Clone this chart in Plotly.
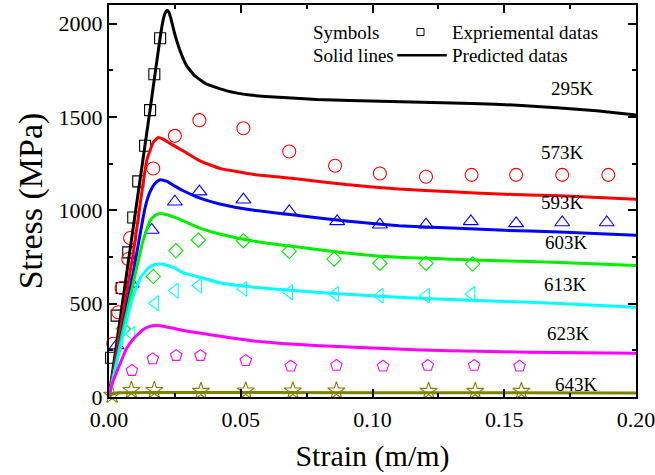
import plotly.graph_objects as go

# ---------------- data ----------------
temperatures = ["295K", "573K", "593K", "603K", "613K", "623K", "643K"]
colors = ["#000000", "#FF0000", "#0000FF", "#00EE00", "#00FFFF", "#FF00FF", "#808000"]
symbols = ["square-open", "circle-open", "triangle-up-open", "diamond-open",
           "triangle-left-open", "pentagon-open", "star-open"]
marker_sizes = [11, 13, 13, 11, 13, 12, 13]

x_tick_values = [0.0, 0.05, 0.10, 0.15, 0.20]
x_tick_labels = ["0.00", "0.05", "0.10", "0.15", "0.20"]
y_tick_values = [0, 500, 1000, 1500, 2000]
y_tick_labels = ["0", "500", "1000", "1500", "2000"]

# experimental points (strain, stress in MPa)
exp_strain_295 = [0.0008, 0.0029, 0.0048, 0.0073, 0.0092, 0.0111, 0.0137, 0.0156, 0.0172, 0.0194]
exp_stress_295 = [210, 436, 584, 775, 962, 1155, 1346, 1537, 1729, 1922]

exp_strain_573 = [0.0016, 0.0035, 0.0048, 0.0073, 0.0080, 0.0168, 0.0250, 0.0343, 0.0510,
                  0.0684, 0.0858, 0.1028, 0.1203, 0.1376, 0.1545, 0.1720, 0.1895]
exp_stress_573 = [285, 454, 584, 739, 852, 1224, 1399, 1483, 1440,
                  1315, 1239, 1197, 1180, 1190, 1190, 1190, 1190]

exp_strain_593 = [0.0029, 0.0086, 0.0162, 0.0250, 0.0343, 0.0510, 0.0684, 0.0866,
                  0.1028, 0.1203, 0.1373, 0.1545, 0.1720, 0.1889]
exp_stress_593 = [276, 606, 895, 1046, 1100, 1057, 994, 941,
                  923, 923, 941, 930, 935, 935]

exp_strain_603 = [0.0054, 0.0168, 0.0254, 0.0339, 0.0510, 0.0684, 0.0854, 0.1028, 0.1203, 0.1380]
exp_stress_603 = [365, 646, 784, 841, 837, 780, 739, 716, 716, 713]

exp_strain_613 = [0.0086, 0.0175, 0.0250, 0.0339, 0.0510, 0.0684, 0.0858, 0.1028, 0.1203, 0.1376]
exp_stress_613 = [338, 502, 570, 597, 579, 561, 552, 543, 543, 552]

exp_strain_623 = [0.0087, 0.0166, 0.0255, 0.0347, 0.0519, 0.0690, 0.0863, 0.1040, 0.1210, 0.1386, 0.1558]
exp_stress_623 = [142, 204, 222, 222, 195, 165, 169, 165, 169, 169, 165]

exp_strain_643 = [0.0012, 0.0085, 0.0172, 0.0349, 0.0519, 0.0698, 0.0863, 0.1213, 0.1390, 0.1565]
exp_stress_643 = [10, 36, 36, 31, 33, 33, 33, 31, 31, 31]

# predicted curves (strain, stress in MPa)
pred_strain_295 = [0, 0.0156, 0.0194, 0.0207, 0.0215, 0.0221, 0.0227, 0.0234, 0.0250, 0.0270,
                   0.0295, 0.0326, 0.0371, 0.0447, 0.0535, 0.0662, 0.0788, 0.0915, 0.1070,
                   0.1380, 0.1550, 0.1700, 0.1850, 0.2000]
pred_stress_295 = [0, 1540, 1925, 2030, 2062, 2072, 2062, 2032, 1943, 1854,
                   1774, 1720, 1676, 1640, 1618, 1604, 1594, 1589, 1583,
                   1572, 1563, 1550, 1533, 1511]

pred_strain_573 = [0, 0.0092, 0.0143, 0.0168, 0.0187, 0.0205, 0.0230, 0.0282, 0.0345, 0.0420,
                   0.0550, 0.0725, 0.0900, 0.1100, 0.1300, 0.1480, 0.1710, 0.2000]
pred_stress_573 = [0, 770, 1265, 1365, 1390, 1382, 1360, 1318, 1265, 1225,
                   1192, 1167, 1138, 1114, 1100, 1087, 1078, 1060]

pred_strain_593 = [0, 0.0086, 0.0137, 0.0156, 0.0175, 0.0194, 0.0220, 0.0250, 0.0282, 0.0345,
                   0.0420, 0.0550, 0.0725, 0.0900, 0.1100, 0.1300, 0.1480, 0.1710, 0.2000]
pred_stress_593 = [0, 620, 1015, 1100, 1145, 1164, 1155, 1130, 1105, 1065,
                   1034, 1000, 971, 943, 918, 905, 894, 884, 866]

pred_strain_603 = [0, 0.0054, 0.0130, 0.0156, 0.0175, 0.0194, 0.0220, 0.0250, 0.0282, 0.0345,
                   0.0420, 0.0550, 0.0725, 0.0900, 0.1100, 0.1300, 0.1480, 0.1710, 0.2000]
pred_stress_603 = [0, 365, 840, 944, 972, 983, 976, 962, 944, 905,
                   873, 835, 802, 772, 748, 738, 730, 721, 704]

pred_strain_613 = [0, 0.0086, 0.0120, 0.0149, 0.0175, 0.0195, 0.0220, 0.0250, 0.0282, 0.0345,
                   0.0420, 0.0550, 0.0725, 0.0900, 0.1100, 0.1300, 0.1480, 0.1710, 0.2000]
pred_stress_613 = [0, 516, 640, 690, 710, 712, 706, 690, 665, 642,
                   612, 588, 568, 550, 534, 522, 513, 501, 481]

pred_strain_623 = [0, 0.0010, 0.0042, 0.0065, 0.0092, 0.0130, 0.0155, 0.0175, 0.0210, 0.0245,
                   0.0282, 0.0409, 0.0550, 0.0778, 0.1000, 0.1185, 0.1400, 0.1590, 0.1800, 0.2000]
pred_stress_623 = [0, 62, 178, 255, 311, 362, 378, 383, 378, 368,
                   356, 328, 300, 276, 262, 252, 245, 240, 237, 234]

pred_strain_643 = [0, 0.0015, 0.0040, 0.0200, 0.1000, 0.2000]
pred_stress_643 = [0, 18, 23, 24, 23, 22]

exp_strain = [exp_strain_295, exp_strain_573, exp_strain_593, exp_strain_603,
              exp_strain_613, exp_strain_623, exp_strain_643]
exp_stress = [exp_stress_295, exp_stress_573, exp_stress_593, exp_stress_603,
              exp_stress_613, exp_stress_623, exp_stress_643]
pred_strain = [pred_strain_295, pred_strain_573, pred_strain_593, pred_strain_603,
               pred_strain_613, pred_strain_623, pred_strain_643]
pred_stress = [pred_stress_295, pred_stress_573, pred_stress_593, pred_stress_603,
               pred_stress_613, pred_stress_623, pred_stress_643]

# temperature label anchor points (strain, stress)
label_strain = [0.176, 0.172, 0.172, 0.1737, 0.1732, 0.1742, 0.1775]
label_stress = [1654, 1310, 1042, 826, 604, 338, 65]

FONT = "Liberation Serif, Times New Roman, serif"

fig = go.Figure()

# experimental symbols
for i in range(len(temperatures)):
    fig.add_trace(go.Scatter(
        x=exp_strain[i], y=exp_stress[i], mode="markers",
        marker=dict(symbol=symbols[i], size=marker_sizes[i], color=colors[i],
                    line=dict(width=1.1, color=colors[i])),
        showlegend=False, cliponaxis=False,
    ))

# predicted curves
for i in range(len(temperatures)):
    fig.add_trace(go.Scatter(
        x=pred_strain[i], y=pred_stress[i], mode="lines",
        line=dict(color=colors[i], width=3, shape="spline", smoothing=0.4),
        showlegend=False,
    ))

# temperature labels
for i, t in enumerate(temperatures):
    fig.add_annotation(x=label_strain[i], y=label_stress[i], text=t, showarrow=False,
                       xanchor="center", yanchor="middle",
                       font=dict(family=FONT, size=19, color="black"))

# key box text
key_font = dict(family=FONT, size=19, color="black")
fig.add_annotation(xref="paper", yref="paper", x=0.384, y=0.931, text="Symbols",
                   showarrow=False, xanchor="left", yanchor="middle", font=key_font)
fig.add_annotation(xref="paper", yref="paper", x=0.384, y=0.870, text="Solid lines",
                   showarrow=False, xanchor="left", yanchor="middle", font=key_font)
fig.add_annotation(xref="paper", yref="paper", x=0.648, y=0.931, text="Expriemental datas",
                   showarrow=False, xanchor="left", yanchor="middle", font=key_font)
fig.add_annotation(xref="paper", yref="paper", x=0.648, y=0.870, text="Predicted datas",
                   showarrow=False, xanchor="left", yanchor="middle", font=key_font)
fig.add_shape(type="rect", xref="paper", yref="paper", x0=0.5844, x1=0.5977, y0=0.922, y1=0.940,
              line=dict(color="black", width=1), fillcolor="rgba(0,0,0,0)")
fig.add_shape(type="line", xref="paper", yref="paper", x0=0.547, x1=0.641, y0=0.872, y1=0.872,
              line=dict(color="black", width=2.5))

axis_common = dict(
    showline=True, linewidth=2, linecolor="black", mirror="allticks",
    ticks="inside", ticklen=8, tickwidth=2, tickcolor="black",
    showgrid=False, zeroline=False, ticklabeloverflow="allow", automargin=False,
    tickfont=dict(family=FONT, size=22, color="black"),
)

fig.update_xaxes(
    range=[0, 0.2], tickmode="array", tickvals=x_tick_values, ticktext=x_tick_labels,
    ticklabelstandoff=2,
    minor=dict(dtick=0.025, ticks="inside", ticklen=4, tickwidth=2, tickcolor="black"),
    title=dict(text="Strain (m/m)", font=dict(family=FONT, size=30, color="black"), standoff=14),
    **axis_common,
)
fig.update_yaxes(
    range=[0, 2100], tickmode="array", tickvals=y_tick_values, ticktext=y_tick_labels,
    minor=dict(dtick=250, ticks="inside", ticklen=4, tickwidth=2, tickcolor="black"),
    title=dict(text="Stress (MPa)", font=dict(family=FONT, size=34, color="black"), standoff=6),
    **axis_common,
)

fig.update_layout(
    width=655, height=475,
    margin=dict(l=109, r=19, t=5, b=78),
    plot_bgcolor="white", paper_bgcolor="white",
    showlegend=False,
)

fig.write_html("out.html")
